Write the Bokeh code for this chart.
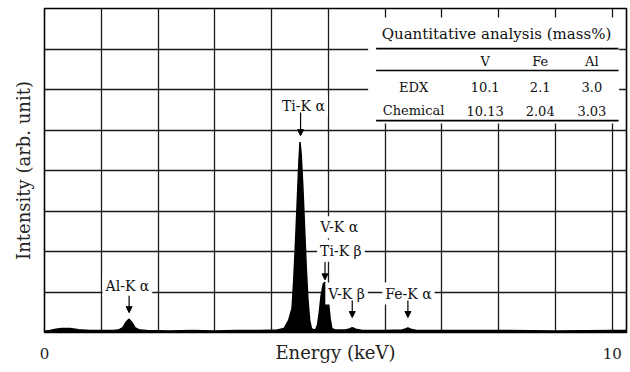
from bokeh.plotting import figure
from bokeh.models import Label, Arrow, NormalHead, FixedTicker, Range1d
from bokeh.embed import file_html
from bokeh.resources import INLINE

# ---- spectrum (energy keV, intensity in grid units) ----
energy = [0.0, 0.1, 0.2, 0.3, 0.45, 0.6, 0.8, 1.0, 1.2, 1.3, 1.38, 1.44, 1.49, 1.54,
          1.60, 1.68, 1.8, 2.2, 2.6, 3.0, 3.4, 3.8, 4.1, 4.22, 4.30, 4.36, 4.39, 4.42,
          4.45, 4.48, 4.50, 4.52, 4.55, 4.58, 4.61, 4.64, 4.67, 4.70, 4.74, 4.78, 4.81,
          4.84, 4.87, 4.91, 4.94, 4.97, 5.00, 5.03, 5.06, 5.12, 5.3, 5.37, 5.42, 5.48,
          5.6, 6.0, 6.3, 6.36, 6.40, 6.45, 6.55, 7.0, 8.0, 9.0, 10.0, 10.3]
intensity = [0.03, 0.05, 0.08, 0.10, 0.10, 0.07, 0.05, 0.05, 0.05, 0.06, 0.12, 0.26, 0.33, 0.25,
             0.11, 0.06, 0.05, 0.04, 0.05, 0.04, 0.05, 0.05, 0.06, 0.10, 0.30, 0.60, 1.30, 2.20,
             3.20, 4.20, 4.70, 4.40, 3.60, 2.60, 1.60, 0.80, 0.30, 0.10, 0.06, 0.08, 0.20,
             0.50, 0.90, 1.20, 1.24, 1.10, 0.75, 0.35, 0.10, 0.06, 0.06, 0.09, 0.12, 0.08,
             0.05, 0.05, 0.06, 0.09, 0.11, 0.08, 0.05, 0.05, 0.05, 0.04, 0.05, 0.05]

# ---- peak annotations ----
peak_texts = ["Al-K α", "Ti-K α", "V-K α", "Ti-K β", "V-K β", "Fe-K α"]
peak_text_x = [1.46, 4.56, 5.19, 5.22, 5.32, 6.41]
peak_text_y = [1.16, 5.60, 2.60, 2.02, 0.96, 0.96]
arrow_x = [1.49, 4.51, 4.94, 5.42, 6.40]
arrow_top = [0.91, 5.43, 1.74, 0.79, 0.79]
arrow_bottom = [0.49, 4.86, 1.30, 0.37, 0.37]

# ---- inset table ----
table_title = "Quantitative analysis (mass%)"
table_cols = ["V", "Fe", "Al"]
table_rows = ["EDX", "Chemical"]
table_values = [["10.1", "2.1", "3.0"], ["10.13", "2.04", "3.03"]]

FONT = "DejaVu Serif"

p = figure(width=628, height=370, output_backend="svg", toolbar_location=None,
           x_range=Range1d(0, 10.25), y_range=Range1d(0, 8),
           min_border_left=44, min_border_right=2, min_border_top=8, min_border_bottom=38)
p.background_fill_color = "white"
p.border_fill_color = "white"
p.outline_line_color = "black"
p.outline_line_width = 1.6

# grid
p.xgrid.ticker = FixedTicker(ticks=list(range(1, 11)))
p.ygrid.ticker = FixedTicker(ticks=list(range(1, 8)))
for g in (p.xgrid, p.ygrid):
    g.grid_line_color = "#1a1a1a"
    g.grid_line_width = 1.3

# axes
p.xaxis.ticker = FixedTicker(ticks=[0, 10])
p.xaxis.major_tick_line_color = None
p.xaxis.minor_tick_line_color = None
p.xaxis.axis_line_color = None
p.xaxis.major_label_text_font = FONT
p.xaxis.major_label_text_font_size = "15px"
p.xaxis.major_label_text_color = "#222"
p.xaxis.major_label_standoff = 9
p.xaxis.axis_label = "Energy (keV)"
p.xaxis.axis_label_text_font = FONT
p.xaxis.axis_label_text_font_style = "normal"
p.xaxis.axis_label_text_font_size = "18px"
p.xaxis.axis_label_text_color = "#222"
p.xaxis.axis_label_standoff = -20

p.yaxis.ticker = FixedTicker(ticks=[])
p.yaxis.major_tick_line_color = None
p.yaxis.minor_tick_line_color = None
p.yaxis.axis_line_color = None
p.yaxis.axis_label = "Intensity (arb. unit)"
p.yaxis.axis_label_text_font = FONT
p.yaxis.axis_label_text_font_style = "normal"
p.yaxis.axis_label_text_font_size = "18px"
p.yaxis.axis_label_text_color = "#222"
p.yaxis.axis_label_standoff = 11

# spectrum
p.varea(x=energy, y1=[0] * len(energy), y2=intensity, fill_color="black")
p.line(x=energy, y=intensity, line_color="black", line_width=1.5)

# peak labels
for t, x, y in zip(peak_texts, peak_text_x, peak_text_y):
    p.add_layout(Label(x=x, y=y, text=t, text_font=FONT, text_font_size="14px",
                       text_align="center", text_baseline="middle", text_color="#111",
                       background_fill_color="white", background_fill_alpha=1.0, padding=3))
for x, y0, y1 in zip(arrow_x, arrow_top, arrow_bottom):
    p.add_layout(Arrow(x_start=x, y_start=y0, x_end=x, y_end=y1, line_width=1.2,
                       line_color="black",
                       end=NormalHead(size=6, fill_color="black", line_color="black")))

# inset table: white panel, then rules on top of it
p.quad(left=[5.70], right=[10.12], bottom=[5.16], top=[7.78],
       fill_color="white", line_color=None)
rule_y = [7.01, 6.47, 5.23]
rule_w = [1.8, 1.4, 1.8]
for ry, rw in zip(rule_y, rule_w):
    p.line(x=[5.84, 10.11], y=[ry, ry], line_color="black", line_width=rw)

p.add_layout(Label(x=7.96, y=7.38, text=table_title, text_font=FONT, text_font_size="15px",
                   text_align="center", text_baseline="middle", text_color="#111"))
col_x = [7.76, 8.73, 9.64]
for c, x in zip(table_cols, col_x):
    p.add_layout(Label(x=x, y=6.70, text=c, text_font=FONT, text_font_size="13px",
                       text_align="center", text_baseline="middle", text_color="#111"))
row_y = [6.05, 5.48]
for r, y, vals in zip(table_rows, row_y, table_values):
    p.add_layout(Label(x=6.50, y=y, text=r, text_font=FONT, text_font_size="13px",
                       text_align="center", text_baseline="middle", text_color="#111"))
    for v, x in zip(vals, col_x):
        p.add_layout(Label(x=x, y=y, text=v, text_font=FONT, text_font_size="13px",
                           text_align="center", text_baseline="middle", text_color="#111"))

open("out.html", "w").write(file_html(p, INLINE))
